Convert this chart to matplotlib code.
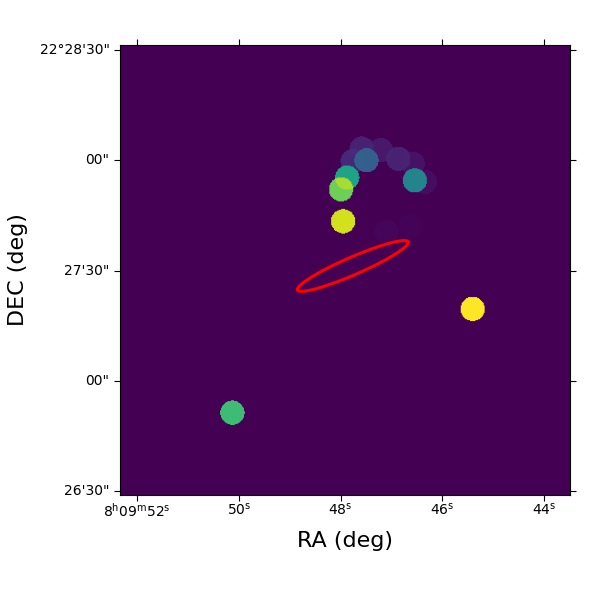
#!/usr/bin/env python3

import numpy as np
import matplotlib
matplotlib.use("Agg")
import matplotlib.pyplot as plt
from matplotlib.colors import PowerNorm
from matplotlib.transforms import ScaledTranslation

# source positions: RA seconds after 8h09m, DEC arcsec after 22d27m
src_ra = [47.585, 47.21, 47.76, 47.49, 46.86, 46.58, 46.34, 46.54, 47.87, 47.99, 47.95, 47.09, 46.62, 45.40, 50.13]
src_dec = [63.3, 62.9, 59.9, 60.1, 60.5, 59.2, 54.2, 54.6, 55.4, 52.2, 43.5, 40.6, 42.2, 19.6, -8.7]
src_val = [0.09, 0.07, 0.11, 0.30, 0.09, 0.05, 0.035, 0.45, 0.58, 0.78, 0.93, 0.012, 0.01, 1.00, 0.69]
src_radius = 3.3  # arcsec

# beam ellipse
ell_ra, ell_dec = 47.76, 31.3
ell_major, ell_minor = 16.4, 2.4  # arcsec
ell_angle = 23.5  # deg, from the RA axis

ra_ticks = [52, 50, 48, 46, 44]
ra_labels = [r"8$^{\mathrm{h}}$09$^{\mathrm{m}}$52$^{\mathrm{s}}$", r"50$^{\mathrm{s}}$",
             r"48$^{\mathrm{s}}$", r"46$^{\mathrm{s}}$", r"44$^{\mathrm{s}}$"]
dec_ticks = [90, 60, 30, 0, -30]
dec_labels = ["22\u00b028'30\"", "00\"", "27'30\"", "00\"", "26'30\""]

ra_lim = (52.334, 43.493)
dec_lim = (-31.0, 91.4)
arcsec_per_s = 13.86

# image on a 0.25 arcsec grid, finer than the screen pixels
nx = int(abs(ra_lim[1] - ra_lim[0]) * arcsec_per_s / 0.25)
ny = int((dec_lim[1] - dec_lim[0]) / 0.25)
xx, yy = np.meshgrid(np.linspace(ra_lim[0], ra_lim[1], nx), np.linspace(dec_lim[0], dec_lim[1], ny))
img = np.zeros_like(xx)
for r, d, v in zip(src_ra, src_dec, src_val):
    mask = ((xx - r) * arcsec_per_s) ** 2 + (yy - d) ** 2 < src_radius ** 2
    img[mask] += v ** 3

fig = plt.figure(figsize=(6, 6), dpi=100)
ax = fig.add_axes([120 / 600, 105 / 600, 450 / 600, 450 / 600])
ax.imshow(img, origin="lower", cmap="viridis", norm=PowerNorm(1 / 3, vmin=0, vmax=1),
          extent=[ra_lim[0], ra_lim[1], dec_lim[0], dec_lim[1]], aspect="auto", interpolation="antialiased")

t = np.linspace(0, 2 * np.pi, 200)
a = np.radians(ell_angle)
ex = ell_major * np.cos(t) * np.cos(a) - ell_minor * np.sin(t) * np.sin(a)
ey = ell_major * np.cos(t) * np.sin(a) + ell_minor * np.sin(t) * np.cos(a)
ax.plot(ell_ra - ex / arcsec_per_s, ell_dec + ey, color="red", linewidth=2.2)

ax.set_xlim(ra_lim)
ax.set_ylim(dec_lim)
ax.set_xticks(ra_ticks, labels=ra_labels, fontsize=10)
ax.set_yticks(dec_ticks, labels=dec_labels, fontsize=10)
ax.tick_params(top=True, right=True, direction="out", length=4)
ax.tick_params(axis="x", pad=1)
ax.set_xlabel("RA (deg)", fontsize=16, labelpad=8)
ax.set_ylabel("DEC (deg)", fontsize=16, labelpad=8.5)

# the DEC tick labels sit a little above their ticks
nudge = ScaledTranslation(0, 1.5 / 100, fig.dpi_scale_trans)
for lab in ax.get_yticklabels():
    lab.set_transform(lab.get_transform() + nudge)

plt.savefig("out.png", dpi=100)
